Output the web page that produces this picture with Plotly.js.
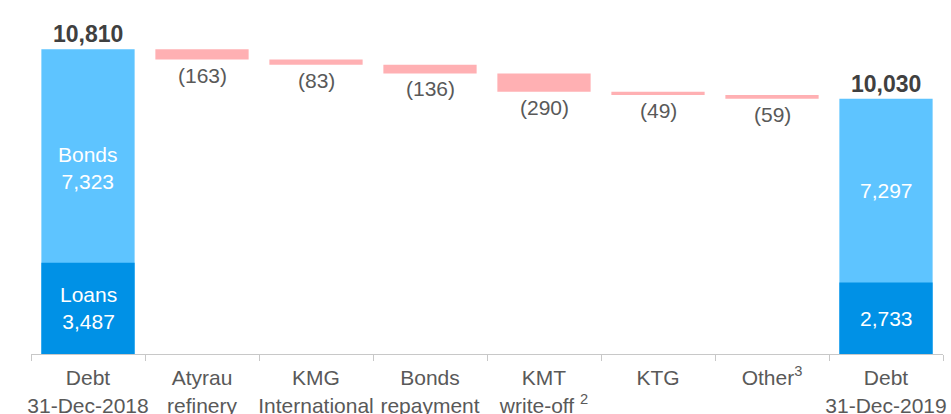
<!DOCTYPE html>
<html>
<head>
<meta charset="utf-8">
<script src="https://cdn.plot.ly/plotly-3.0.1.min.js"></script>
<style>
  html, body { margin: 0; padding: 0; background: #ffffff; }
  #chart { width: 951px; height: 414px; }
</style>
</head>
<body>
<div id="chart"></div>
<script>
// ---- data ----
const categories = ['Debt 31-Dec-2018', 'Atyrau refinery', 'KMG International', 'Bonds repayment',
                    'KMT write-off', 'KTG', 'Other', 'Debt 31-Dec-2019'];
const tickLabels = ['Debt<br>31-Dec-2018', 'Atyrau<br>refinery', 'KMG<br>International', 'Bonds<br>repayment',
                    'KMT<br>write-off <sup>2</sup>', 'KTG', 'Other<sup>3</sup>', 'Debt<br>31-Dec-2019'];
const openingDebt = 10810;
const closingDebt = 10030;
const changes = [-163, -83, -136, -290, -49, -59];
const loans = [3487, 2733];
const bonds = [7323, 7297];
const bondsLabels = ['Bonds<br>7,323', '7,297'];
const loansLabels = ['Loans<br>3,487', '2,733'];

// ---- styles ----
const FONT = 'Liberation Sans, Arial, Helvetica, sans-serif';
const C_BONDS = '#5EC4FF';
const C_LOANS = '#0091E6';
const C_DEC = '#FFB0B3';
const C_TEXT = '#595959';
const C_TOTAL_TEXT = '#404040';
const Y_RANGE = [6000, 11430];
const Y2_RANGE = [0, 13130];

const fmt = v => Math.abs(v).toLocaleString('en-US');

const measures = ['absolute'].concat(changes.map(() => 'relative'), ['total']);
const wfY = [openingDebt].concat(changes, [0]);

const waterfall = {
  type: 'waterfall',
  x: categories,
  y: wfY,
  measure: measures,
  xaxis: 'x', yaxis: 'y',
  connector: { visible: false },
  decreasing: { marker: { color: C_DEC } },
  increasing: { marker: { color: C_DEC } },
  totals: { marker: { color: C_BONDS } },
  textinfo: 'none',
  hoverinfo: 'skip'
};

const loansBar = {
  type: 'bar',
  x: [categories[0], categories[categories.length - 1]],
  y: loans,
  xaxis: 'x', yaxis: 'y2',
  width: 0.818,
  marker: { color: C_LOANS },
  hoverinfo: 'skip'
};

const annotations = [];
// totals
[[categories[0], openingDebt], [categories[7], closingDebt]].forEach(([c, v]) => {
  annotations.push({
    x: c, y: v, xref: 'x', yref: 'y', yanchor: 'bottom', showarrow: false,
    text: '<b>' + fmt(v) + '</b>', font: { family: FONT, size: 23, color: C_TOTAL_TEXT }, yshift: 0
  });
});
// decreases
let running = openingDebt;
changes.forEach((d, i) => {
  running += d;
  annotations.push({
    x: categories[i + 1], y: running, xref: 'x', yref: 'y', yanchor: 'top', showarrow: false,
    text: '(' + fmt(d) + ')', font: { family: FONT, size: 21, color: C_TEXT }, yshift: -2
  });
});
// loans / bonds labels
const totalsArr = [openingDebt, closingDebt];
[categories[0], categories[7]].forEach((c, i) => {
  annotations.push({
    x: c, y: loans[i] / 2, xref: 'x', yref: 'y2', yanchor: 'middle', showarrow: false,
    text: loansLabels[i], font: { family: FONT, size: 21, color: '#ffffff' }
  });
  const topFrac = (totalsArr[i] - Y_RANGE[0]) / (Y_RANGE[1] - Y_RANGE[0]);
  const loanFrac = loans[i] / Y2_RANGE[1];
  annotations.push({
    x: c, y: (topFrac + loanFrac) / 2, xref: 'x', yref: 'paper', yanchor: 'middle', showarrow: false,
    text: bondsLabels[i], font: { family: FONT, size: 21, color: '#ffffff' }, yshift: i === 0 ? -12 : 0
  });
});

const layout = {
  width: 951, height: 414,
  margin: { l: 31, r: 8, t: 10, b: 60 },
  paper_bgcolor: '#ffffff', plot_bgcolor: '#ffffff',
  showlegend: false,
  waterfallgap: 0.182,
  barmode: 'overlay',
  font: { family: FONT, size: 21, color: C_TEXT },
  xaxis: {
    type: 'category',
    tickvals: categories, ticktext: tickLabels,
    tickangle: 0,
    ticklabelstandoff: 5,
    showline: true, linecolor: '#C8C8C8', linewidth: 1,
    ticks: 'outside', tickson: 'boundaries', ticklen: 6, tickcolor: '#C8C8C8',
    showgrid: false, zeroline: false,
    tickfont: { family: FONT, size: 21, color: C_TEXT },
    fixedrange: true
  },
  yaxis: { range: Y_RANGE, visible: false, showgrid: false, zeroline: false, fixedrange: true },
  yaxis2: { range: Y2_RANGE, overlaying: 'y', visible: false, showgrid: false, zeroline: false, fixedrange: true },
  annotations: annotations
};

Plotly.newPlot('chart', [waterfall, loansBar], layout, { displayModeBar: false, staticPlot: true });
</script>
</body>
</html>
